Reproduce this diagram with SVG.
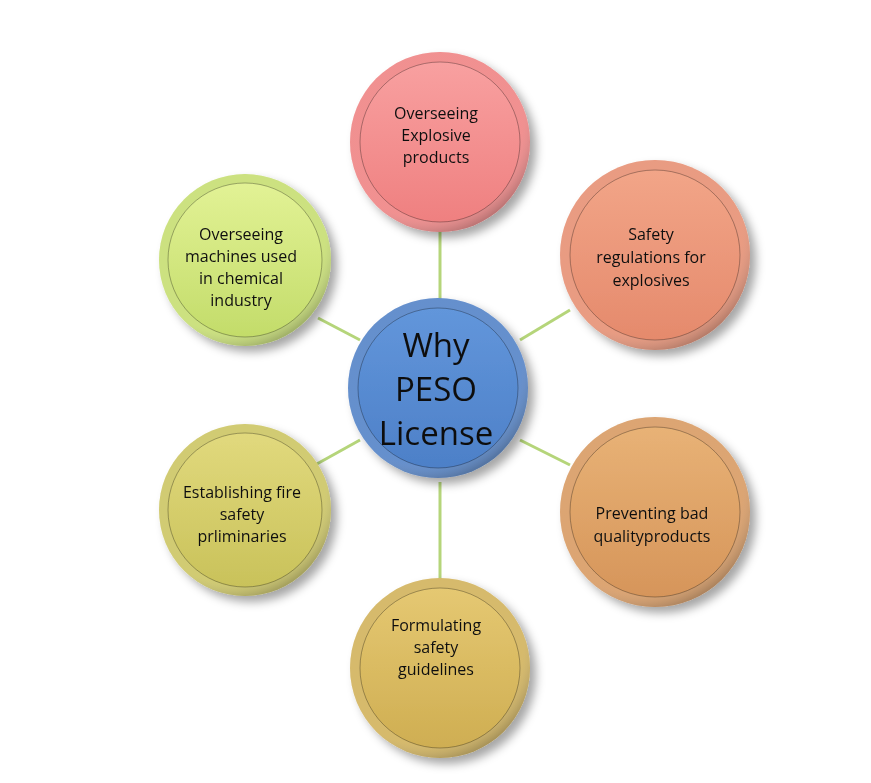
<svg xmlns="http://www.w3.org/2000/svg" width="871" height="783" viewBox="0 0 871 783">
<defs>
<filter id="sh" x="-20%" y="-20%" width="150%" height="150%"><feDropShadow dx="6" dy="6" stdDeviation="5" flood-color="#000" flood-opacity="0.35"/></filter>
<radialGradient id="ring" cx="0.4" cy="0.35" r="0.75"><stop offset="0.75" stop-color="#fff" stop-opacity="0.15"/><stop offset="1" stop-color="#000" stop-opacity="0.5"/></radialGradient>
<linearGradient id="blue" x1="0" y1="0" x2="0" y2="1"><stop offset="0" stop-color="#6296db"/><stop offset="1" stop-color="#4d80c8"/></linearGradient>
<linearGradient id="red" x1="0" y1="0" x2="0" y2="1"><stop offset="0" stop-color="#f8a0a0"/><stop offset="1" stop-color="#ef8080"/></linearGradient>
<linearGradient id="sal" x1="0" y1="0" x2="0" y2="1"><stop offset="0" stop-color="#f2a588"/><stop offset="1" stop-color="#e58a6c"/></linearGradient>
<linearGradient id="ora" x1="0" y1="0" x2="0" y2="1"><stop offset="0" stop-color="#e8b276"/><stop offset="1" stop-color="#d6955a"/></linearGradient>
<linearGradient id="gold" x1="0" y1="0" x2="0" y2="1"><stop offset="0" stop-color="#e5c872"/><stop offset="1" stop-color="#cfae52"/></linearGradient>
<linearGradient id="olive" x1="0" y1="0" x2="0" y2="1"><stop offset="0" stop-color="#e1d97d"/><stop offset="1" stop-color="#c9c25a"/></linearGradient>
<linearGradient id="lime" x1="0" y1="0" x2="0" y2="1"><stop offset="0" stop-color="#e2f295"/><stop offset="1" stop-color="#c3dc6a"/></linearGradient>
</defs>
<style>
.t{font-family:"Open Sans","Liberation Sans",sans-serif;font-size:16px;fill:#111;text-anchor:middle}
.c{font-family:"Open Sans","Liberation Sans",sans-serif;font-size:33px;fill:#111;text-anchor:middle}
.rim{fill:url(#ring)}
.in{stroke:#000;stroke-opacity:0.3;stroke-width:1}
</style>
<rect width="871" height="783" fill="#fff"/>
<g id="connectors" stroke="#b5d57a" stroke-width="3">
<line x1="440" y1="230" x2="440" y2="300"/>
<line x1="570" y1="310" x2="520" y2="340"/>
<line x1="520" y1="440" x2="570" y2="465"/>
<line x1="440" y1="482" x2="440" y2="580"/>
<line x1="360" y1="440" x2="315" y2="465"/>
<line x1="360" y1="340" x2="318" y2="318"/>
</g>
<g id="n-top" filter="url(#sh)"><circle cx="440" cy="142" r="90" fill="#ee7d7d"/><circle cx="440" cy="142" r="90" class="rim"/><circle cx="440" cy="142" r="80" fill="url(#red)" class="in"/>
<text class="t" x="436" y="119">Overseeing</text><text class="t" x="436" y="141">Explosive</text><text class="t" x="436" y="163">products</text></g>
<g id="n-rt" filter="url(#sh)"><circle cx="655" cy="255" r="95" fill="#e58a6c"/><circle cx="655" cy="255" r="95" class="rim"/><circle cx="655" cy="255" r="85" fill="url(#sal)" class="in"/>
<text class="t" x="651" y="240">Safety</text><text class="t" x="651" y="263">regulations for</text><text class="t" x="651" y="286">explosives</text></g>
<g id="n-rb" filter="url(#sh)"><circle cx="655" cy="512" r="95" fill="#d6955a"/><circle cx="655" cy="512" r="95" class="rim"/><circle cx="655" cy="512" r="85" fill="url(#ora)" class="in"/>
<text class="t" x="652" y="519">Preventing bad</text><text class="t" x="652" y="542">qualityproducts</text></g>
<g id="n-bot" filter="url(#sh)"><circle cx="440" cy="668" r="90" fill="#cfae52"/><circle cx="440" cy="668" r="90" class="rim"/><circle cx="440" cy="668" r="80" fill="url(#gold)" class="in"/>
<text class="t" x="436" y="631">Formulating</text><text class="t" x="436" y="653">safety</text><text class="t" x="436" y="675">guidelines</text></g>
<g id="n-lb" filter="url(#sh)"><circle cx="245" cy="510" r="86" fill="#c9c25a"/><circle cx="245" cy="510" r="86" class="rim"/><circle cx="245" cy="510" r="77" fill="url(#olive)" class="in"/>
<text class="t" x="242" y="498">Establishing fire</text><text class="t" x="242" y="520">safety</text><text class="t" x="242" y="542">prliminaries</text></g>
<g id="n-lt" filter="url(#sh)"><circle cx="245" cy="260" r="86" fill="#c3dc6a"/><circle cx="245" cy="260" r="86" class="rim"/><circle cx="245" cy="260" r="77" fill="url(#lime)" class="in"/>
<text class="t" x="241" y="240">Overseeing</text><text class="t" x="241" y="262">machines used</text><text class="t" x="241" y="284">in chemical</text><text class="t" x="241" y="306">industry</text></g>
<g id="n-center" filter="url(#sh)"><circle cx="438" cy="388" r="90" fill="#4a7cc4"/><circle cx="438" cy="388" r="90" class="rim"/><circle cx="438" cy="388" r="80" fill="url(#blue)" class="in"/>
<text class="c" x="436" y="357">Why</text><text class="c" x="436" y="401">PESO</text><text class="c" x="436" y="445">License</text></g>
</svg>
